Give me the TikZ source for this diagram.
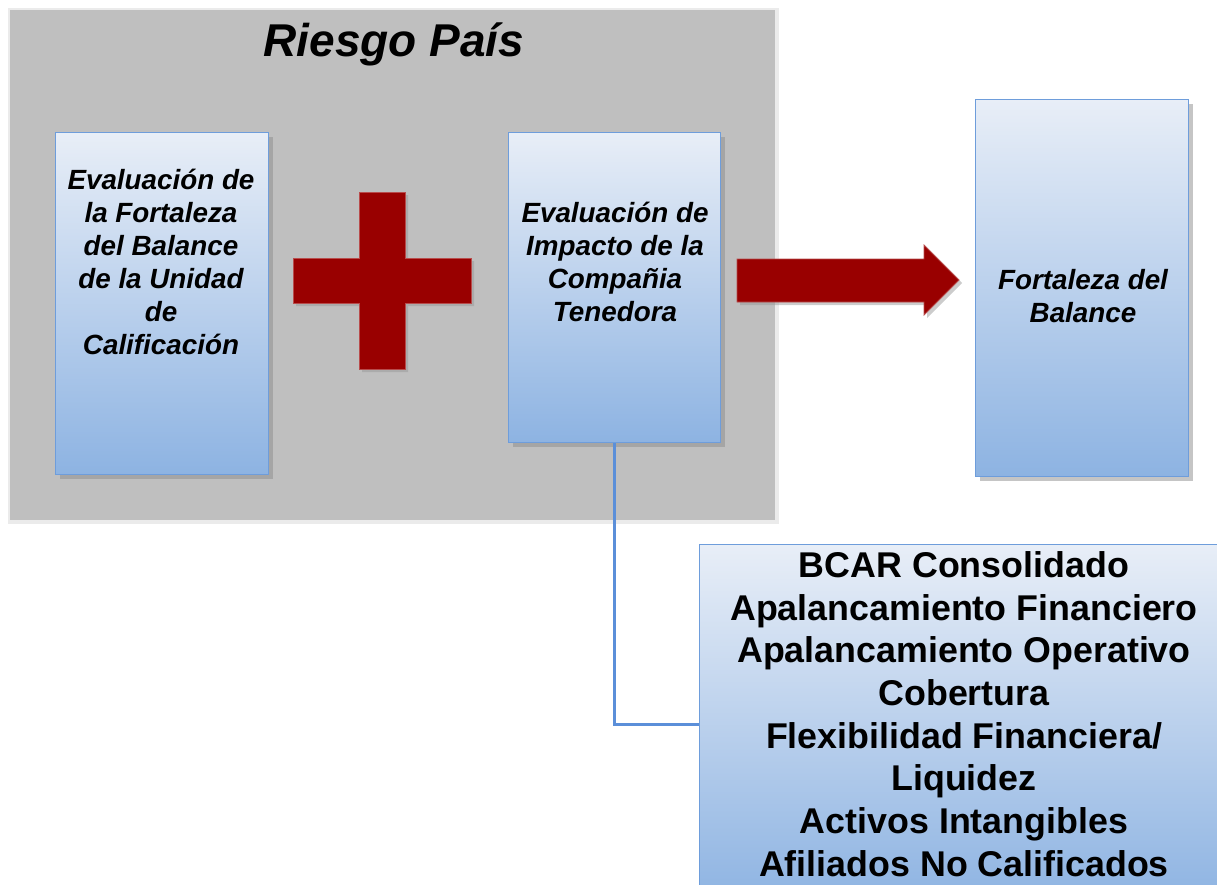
\documentclass[tikz,border=0pt]{standalone}
\usepackage{fontspec}
\setmainfont{Liberation Sans}
\usepackage{tikz}
\usetikzlibrary{positioning, shadows, shapes.arrows}
\definecolor{fondogris}{HTML}{BFBFBF}
\definecolor{rojoosc}{HTML}{990000}
\definecolor{azulborde}{HTML}{6E9DDB}
\definecolor{azullinea}{HTML}{5B8FD9}
\definecolor{azulclaro}{HTML}{E8EEF7}
\definecolor{azulfuerte}{HTML}{8DB3E2}
\tikzset{
x=1pt, y=-1pt, % one unit is one pixel of the reference
caja/.style={draw=azulborde, line width=1.2pt, top color=azulclaro, bottom color=azulfuerte,
  drop shadow={shadow xshift=4pt, shadow yshift=-4pt, fill=black!45}, inner sep=0pt}, % blue boxes
texto/.style={font=\fontsize{27.8}{33}\selectfont\bfseries\itshape, align=center}, % text in the boxes
rojo/.style={fill=rojoosc, draw=rojoosc!70!white, line width=0.8pt,
  drop shadow={shadow xshift=3pt, shadow yshift=-3pt, fill=black!40}}, % plus sign and arrow
enlace/.style={draw=azullinea, line width=3pt}, % connector line
}
\begin{document}
\begin{tikzpicture}
\useasboundingbox (0,0) rectangle (1217,884);

% gray country-risk panel
\fill[black!8] (8,8) rectangle (779,524);
\node[fill=fondogris, minimum width=765pt, minimum height=510pt, inner sep=0pt, anchor=north west] (riesgo) at (10,10) {};
\node[font=\fontsize{46}{50}\selectfont\bfseries\itshape] (titulo) at (394,44) {Riesgo País};

% boxes
\node[caja, minimum width=213pt, minimum height=342pt, anchor=north west] (unidad) at (55,132) {};
\node[caja, minimum width=212pt, minimum height=310pt, anchor=north west] (impacto) at (508,132) {};
\node[caja, minimum width=213pt, minimum height=377pt, anchor=north west] (fortaleza) at (975,99) {};
\node[caja, minimum width=540pt, minimum height=360pt, anchor=north west] (factores) at (699,544) {};

\node[texto] (unidadtxt) at (161,262) {Evaluación de\\la Fortaleza\\del Balance\\de la Unidad\\de\\Calificación};
\node[texto] (impactotxt) at (615,262) {Evaluación de\\Impacto de la\\Compañia\\Tenedora};
\node[texto] (fortalezatxt) at (1083,296) {Fortaleza del\\Balance};
\node[font=\fontsize{35.8}{42.7}\selectfont\bfseries, align=center] (factorestxt) at (964,714)
  {BCAR Consolidado\\Apalancamiento Financiero\\Apalancamiento Operativo\\Cobertura\\Flexibilidad Financiera/\\Liquidez\\Activos Intangibles\\Afiliados No Calificados};

% plus sign
\draw[rojo] (359,192) -- (405,192) -- (405,258) -- (471,258) -- (471,303) -- (405,303)
  -- (405,369) -- (359,369) -- (359,303) -- (293,303) -- (293,258) -- (359,258) -- cycle;

% block arrow
\draw[rojo] (737,259) -- (924,259) -- (924,245) -- (959,280) -- (924,315) -- (924,302) -- (737,302) -- cycle;

% connector
\coordinate (codo) at (impacto.south |- factores.west);
\draw[enlace] (impacto.south) -- (codo) -- (factores.west |- codo);
\end{tikzpicture}
\end{document}
